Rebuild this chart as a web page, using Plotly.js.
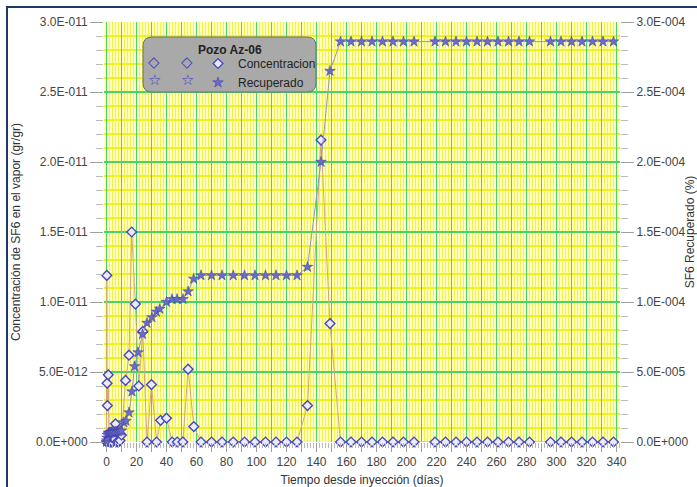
<!DOCTYPE html>
<html><head><meta charset="utf-8">
<script src="https://cdn.plot.ly/plotly-3.0.1.min.js"></script>
<style>
html,body{margin:0;padding:0;background:#fff;overflow:hidden;}
#frame{position:absolute;left:6px;top:6px;width:700px;height:490px;border-top:2px solid #1d3a66;border-left:2px solid #1d3a66;}
#chart{position:absolute;left:0;top:0;width:697px;height:487px;}
</style></head><body>
<div id="frame"></div>
<div id="chart"></div>
<script>
// ---- data ----
const concDays = [0,0.2,0.4,0.6,1.2,1.6,2,2.5,3,3.5,4,5,6,7,8,9,10,12.7,15,16.8,19.3,21.5,24.2,27,30,33.4,36.1,40,43.8,47.2,50.9,54.4,58.2,63,70,77,84.5,92,99,106,113,120,127,134,143,149,156,163,170,177,184,191,198,205,219,226,233,240,247,254,261,268,275,282,296,303,310,317,324,331,338];
const concValues = [0,1.19e-11,0.42e-11,0.26e-11,0.48e-11,0.02e-11,0,0,0.04e-11,0,0,0.02e-11,0.13e-11,0,0,0.01e-11,0.05e-11,0.44e-11,0.62e-11,1.5e-11,0.985e-11,0.40e-11,0.79e-11,0,0.41e-11,0,0.155e-11,0.17e-11,0,0,0,0.52e-11,0.11e-11,0,0,0,0,0,0,0,0,0,0,0.26e-11,2.157e-11,0.846e-11,0,0,0,0,0,0,0,0,0,0,0,0,0,0,0,0,0,0,0,0,0,0,0,0,0];
const recDays = [0,0.2,0.4,0.6,1.2,1.6,2,2.5,3,3.5,4,5,6,7,8,9,10,11.5,13,15,17,18.7,21,24,27,30.3,33.3,35.5,40,43.7,47,51,54.4,58.1,63,70,77,84.5,92,99,106,113,120,127,134,143,149,156,163,170,177,184,191,198,205,219,226,233,240,247,254,261,268,275,282,296,303,310,317,324,331,338];
const recValues = [0,0.01e-4,0.03e-4,0.05e-4,0.06e-4,0.065e-4,0.065e-4,0.065e-4,0.07e-4,0.07e-4,0.07e-4,0.07e-4,0.075e-4,0.075e-4,0.075e-4,0.08e-4,0.08e-4,0.14e-4,0.15e-4,0.21e-4,0.36e-4,0.54e-4,0.64e-4,0.77e-4,0.85e-4,0.89e-4,0.93e-4,0.95e-4,1.0e-4,1.02e-4,1.02e-4,1.02e-4,1.075e-4,1.165e-4,1.19e-4,1.19e-4,1.19e-4,1.19e-4,1.19e-4,1.19e-4,1.19e-4,1.19e-4,1.19e-4,1.19e-4,1.25e-4,2.0e-4,2.65e-4,2.86e-4,2.86e-4,2.86e-4,2.86e-4,2.86e-4,2.86e-4,2.86e-4,2.86e-4,2.86e-4,2.86e-4,2.86e-4,2.86e-4,2.86e-4,2.86e-4,2.86e-4,2.86e-4,2.86e-4,2.86e-4,2.86e-4,2.86e-4,2.86e-4,2.86e-4,2.86e-4,2.86e-4,2.86e-4];
const xTickVals = [0,10,20,30,40,50,60,70,80,90,100,110,120,130,140,150,160,170,180,190,200,210,220,230,240,250,260,270,280,290,300,310,320,330,340];
const xTickText = ['0','','20','','40','','60','','80','','100','','120','','140','','160','','180','','200','','220','','240','','260','','280','','300','','320','','340'];
const yTickVals = [0,5e-12,1e-11,1.5e-11,2e-11,2.5e-11,3e-11];
const yTickText = ['0.0E+000','5.0E-012','1.0E-011','1.5E-011','2.0E-011','2.5E-011','3.0E-011'];
const y2TickVals = [0,5e-5,1e-4,1.5e-4,2e-4,2.5e-4,3e-4];
const y2TickText = ['0.0E+000','5.0E-005','1.0E-004','1.5E-004','2.0E-004','2.5E-004','3.0E-004'];
const seriesNames = ['Concentracion','Recuperado'];
const legendTitle = 'Pozo Az-06';

// ---- layout helpers ----
const W=697,H=487,ML=104,MR=77,MT=22,MB=45;
const PW=W-ML-MR, PH=H-MT-MB;
const px = p => (p-ML)/PW;
const py = p => (H-MB-p)/PH;
function roundRect(x0,y0,x1,y1,r){
  const a=px(x0),b=px(x1),c=py(y1),d=py(y0),rx=r/PW,ry=r/PH;
  return `M${a+rx},${d} L${b-rx},${d} Q${b},${d} ${b},${d-ry} L${b},${c+ry} Q${b},${c} ${b-rx},${c} L${a+rx},${c} Q${a},${c} ${a},${c+ry} L${a},${d-ry} Q${a},${d} ${a+rx},${d} Z`;
}
const FAM = 'Liberation Sans, Arial, sans-serif';
const tickFont = {family:FAM, size:12, color:'#444'};
const titleFont = {family:FAM, size:12, color:'#333'};
const xStart = -5/3;                 // 1.5 px per day so the fine grid stays crisp
const xEnd = xStart + PW/1.5;

const concMarker = {symbol:'diamond', size:7.5, color:'rgba(236,236,255,0.95)', line:{color:'#4646bf', width:1.4}};
const recMarker = {symbol:'star', size:8, color:'#6b6bc9', line:{color:'#3b3ba0', width:0.5}};

const traces = [
  {x:concDays, y:concValues, type:'scatter', mode:'lines', showlegend:false, cliponaxis:false,
   line:{color:'#d9a57a', width:1}},
  {x:concDays, y:concValues, name:seriesNames[0], type:'scatter', mode:'markers', cliponaxis:false, marker:concMarker},
  {x:recDays, y:recValues, type:'scatter', mode:'lines', yaxis:'y2', showlegend:false, cliponaxis:false,
   line:{color:'#9497c0', width:1}},
  {x:recDays, y:recValues, name:seriesNames[1], type:'scatter', mode:'markers', yaxis:'y2', cliponaxis:false, marker:recMarker}
];

const symFont = {size:15, color:'#3c3cc4', family:'DejaVu Sans'};
const layout = {
  width:W, height:H,
  margin:{l:ML, r:MR, t:MT, b:MB, pad:0},
  paper_bgcolor:'rgba(0,0,0,0)',
  plot_bgcolor:'#ffffc2',
  font:{family:FAM, size:12, color:'#333'},
  showlegend:true,
  legend:{x:px(198), y:py(49), xanchor:'left', yanchor:'top', bgcolor:'rgba(0,0,0,0)', borderwidth:0,
    font:{size:12, color:'#222', family:FAM}, tracegroupgap:0},
  xaxis:{range:[xStart,xEnd], tickmode:'array', tickvals:xTickVals, ticktext:xTickText,
    showgrid:true, gridcolor:'#48d466', gridwidth:1, zeroline:false, showline:false,
    ticks:'outside', ticklen:9, tickcolor:'#a0a0a0', tickfont:tickFont,
    minor:{tickmode:'linear', tick0:0, dtick:2, showgrid:true, gridcolor:'#f2f248', gridwidth:1, ticks:'outside', ticklen:5, tickcolor:'#bbbbbb'},
    title:{text:'Tiempo desde inyección (días)', font:titleFont, standoff:7}},
  yaxis:{range:[0,3e-11], tickmode:'array', tickvals:yTickVals, ticktext:yTickText,
    showgrid:true, gridcolor:'#48d466', gridwidth:1.2, zeroline:false, showline:false,
    ticks:'outside', ticklen:13, tickcolor:'#a0a0a0', tickfont:tickFont,
    minor:{tickmode:'linear', tick0:0, dtick:1e-12, showgrid:true, gridcolor:'#f0f028', gridwidth:2, ticks:'outside', ticklen:7, tickcolor:'#bbbbbb'},
    title:{text:'Concentración de SF6 en el vapor (gr/gr)', font:titleFont, standoff:12}},
  yaxis2:{range:[0,3e-4], overlaying:'y', side:'right', tickmode:'array', tickvals:y2TickVals, ticktext:y2TickText,
    showgrid:false, zeroline:false, showline:false,
    ticks:'outside', ticklen:13, tickcolor:'#a0a0a0', tickfont:tickFont,
    minor:{tickmode:'linear', tick0:0, dtick:1e-5, ticks:'outside', ticklen:7, tickcolor:'#bbbbbb', showgrid:false},
    title:{text:'SF6 Recuperado (%)', font:titleFont, standoff:12}},
  shapes:[{type:'path', xref:'paper', yref:'paper', layer:'above', path:roundRect(143,37,316,92,9),
    fillcolor:'#a9a9a9', line:{color:'#6f6f6f', width:1}}],
  annotations:[
    {xref:'paper', yref:'paper', x:px(230), y:py(50), text:'<b>'+legendTitle+'</b>', showarrow:false, font:{size:12, color:'#222', family:FAM}, xanchor:'center', yanchor:'middle'},
    {xref:'paper', yref:'paper', x:px(154), y:py(62), text:'◇', showarrow:false, font:symFont, xanchor:'center', yanchor:'middle'},
    {xref:'paper', yref:'paper', x:px(187), y:py(62), text:'◇', showarrow:false, font:symFont, xanchor:'center', yanchor:'middle'},
    {xref:'paper', yref:'paper', x:px(154), y:py(80), text:'☆', showarrow:false, font:symFont, xanchor:'center', yanchor:'middle'},
    {xref:'paper', yref:'paper', x:px(187), y:py(80), text:'☆', showarrow:false, font:symFont, xanchor:'center', yanchor:'middle'}
  ]
};
Plotly.newPlot('chart', traces, layout, {displayModeBar:false, staticPlot:true});
</script>
</body></html>
